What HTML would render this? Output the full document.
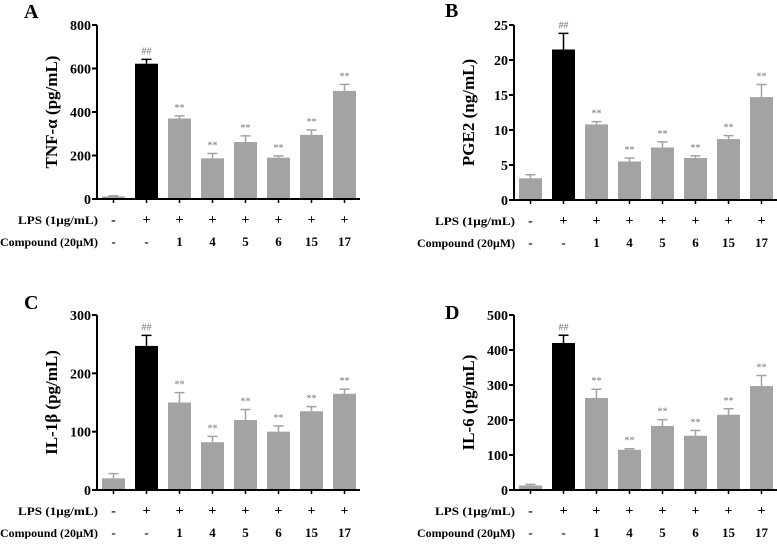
<!DOCTYPE html>
<html><head><meta charset="utf-8"><style>
body{margin:0;background:#fff;width:777px;height:539px;overflow:hidden}
svg text{font-family:"Liberation Serif",serif}
</style></head><body>
<svg id="s" width="777" height="539"></svg>
<script>
const groups=["ctrl","lps","c1","c4","c5","c6","c15","c17"];
const lpsRow=["-","+","+","+","+","+","+","+"];
const compRow=["-","-","1","4","5","6","15","17"];
const tnfVals=[12,622,370,187,262,190,295,497];
const tnfErr=[3,20,12,22,28,8,22,30];
const pgeVals=[3.1,21.5,10.8,5.5,7.5,6,8.7,14.7];
const pgeErr=[0.5,2.3,0.4,0.5,0.8,0.3,0.5,1.8];
const il1Vals=[20,247,150,82,120,100,135,165];
const il1Err=[8,18,17,10,18,10,8,8];
const il6Vals=[13,420,263,115,183,155,215,297];
const il6Err=[3,22,25,3,18,15,17,30];
const tnfTicks=[0,200,400,600,800];
const pgeTicks=[0,5,10,15,20,25];
const il1Ticks=[0,100,200,300];
const il6Ticks=[0,100,200,300,400,500];
const marks=["","##","**","**","**","**","**","**"];
const NS="http://www.w3.org/2000/svg";
const svg=document.getElementById('s');
function el(t,a,p){const e=document.createElementNS(NS,t);for(const k in a)e.setAttribute(k,a[k]);(p||svg).appendChild(e);return e;}
function txt(s,a,p){const e=el('text',a,p);e.textContent=s;return e;}
function panel(id,letter,lx,ly,ax,top,bot,vals,errs,ticks,ylab){
 const g=el('g',{});
 
 
 const max=ticks[ticks.length-1];
 const y=v=>bot-(v/max)*(bot-top);
 const x=i=>ax+16.5+i*33;
 const pl=txt(letter,{x:lx,y:ly,'font-size':20,'font-weight':'bold'},g);
 
 
 for(let i=0;i<vals.length;i++){
  const b=el('rect',{x:x(i)-11.5,y:y(vals[i]),width:23,height:bot-y(vals[i]),fill:i==1?'#000':'#a3a3a6'},g);
  
  
  const c=i==1?'#000':'#a3a3a6';
  const et=y(vals[i]+errs[i]);
  const eb=el('path',{d:`M${x(i)} ${y(vals[i])}V${et}M${x(i)-5} ${et}H${x(i)+5}`,stroke:c,'stroke-width':1.5,fill:'none'},g);
  
  
  if(marks[i]){const m=txt(marks[i],{x:x(i),y:et-5,'font-size':10,fill:'#777','text-anchor':'middle'},g);
   
   }
  el('line',{x1:x(i),x2:x(i),y1:bot,y2:bot+4,stroke:'#000','stroke-width':1.5},g);
  const l1=txt(lpsRow[i],{x:x(i),y:bot+25,'font-size':14,'font-weight':'bold','text-anchor':'middle'},g);
  
  
  const l2=txt(compRow[i],{x:x(i),y:bot+47,'font-size':13,'font-weight':'bold','text-anchor':'middle'},g);
  
  
 }
 const axs=el('path',{d:`M${ax} ${top}V${bot}H${ax+263}`,stroke:'#000','stroke-width':2,fill:'none'},g);
 
 
 ticks.forEach(t=>{el('line',{x1:ax-5,x2:ax,y1:y(t),y2:y(t),stroke:'#000','stroke-width':2},g);
  const tl=txt(t,{x:ax-6,y:y(t)+5,'font-size':14,'font-weight':'bold','text-anchor':'end'},g);
  
  });
 const yl=txt(ylab,{x:0,y:0,'font-size':17,'font-weight':'bold','text-anchor':'middle',transform:`translate(${ax-40},${(top+bot)/2}) rotate(-90)`},g);
 
 
 const r1=txt('LPS (1μg/mL)',{x:ax+1,y:bot+25,'font-size':12,'font-weight':'bold','text-anchor':'end',textLength:80,lengthAdjust:'spacingAndGlyphs'},g);
 
 
 const r2=txt('Compound (20μM)',{x:ax+1,y:bot+47,'font-size':12,'font-weight':'bold','text-anchor':'end',textLength:98,lengthAdjust:'spacingAndGlyphs'},g);
 
 
}
panel('a','A',24,18,97,25,199,tnfVals,tnfErr,tnfTicks,'TNF-α (pg/mL)');
panel('b','B',445,17,514,25,200,pgeVals,pgeErr,pgeTicks,'PGE2 (ng/mL)');
panel('c','C',24,309,97,315,490,il1Vals,il1Err,il1Ticks,'IL-1β (pg/mL)');
panel('d','D',445,319,514,315,490,il6Vals,il6Err,il6Ticks,'IL-6 (pg/mL)');
</script>
</body></html>
